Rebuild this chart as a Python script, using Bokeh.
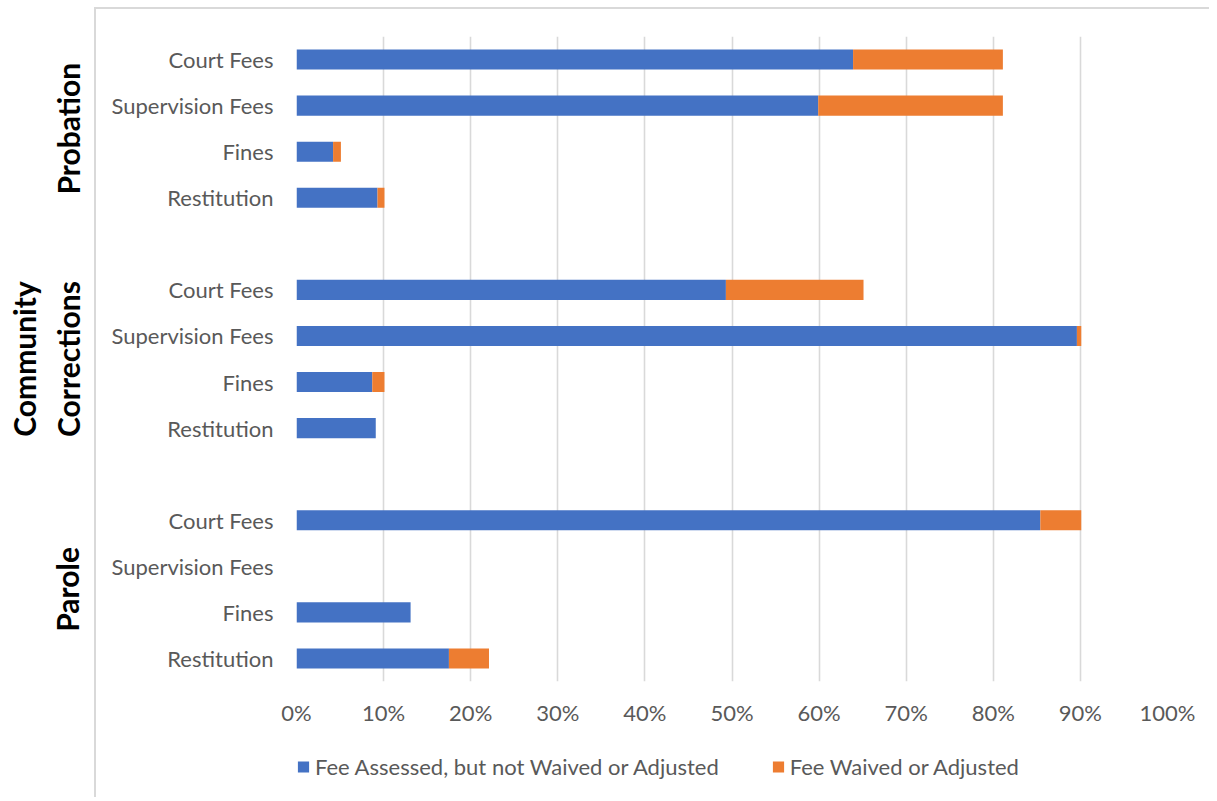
from bokeh.plotting import figure
from bokeh.layouts import column
from bokeh.models import (ColumnDataSource, FactorRange, Legend, LegendItem,
                          FixedTicker, PrintfTickFormatter, Div)
from bokeh.embed import file_html
from bokeh.resources import INLINE

# ---- data (top to bottom as in the chart) ----
groups = ["Probation", "Community\nCorrections", "Parole"]
categories = ["Court Fees", "Supervision Fees", "Fines", "Restitution"]
assessed = [63.9, 59.9, 4.2, 9.3,
            49.3, 89.6, 8.7, 9.1,
            85.4, 0.0, 13.1, 17.5]
waived = [17.2, 21.2, 0.9, 0.8,
          15.8, 0.5, 1.4, 0.0,
          4.7, 0.0, 0.0, 4.6]
series_names = ["Fee Assessed, but not Waived or Adjusted", "Fee Waived or Adjusted"]
series_colors = ["#4472C4", "#ED7D31"]
x_ticks = [0, 10, 20, 30, 40, 50, 60, 70, 80, 90, 100]

factors = [(g, c) for g in groups for c in categories]
source = ColumnDataSource(dict(y=factors, assessed=assessed, waived=waived))

FONT = "Lato"
GRAY = "#595959"

# ---------------- main chart ----------------
p = figure(frame_width=871, frame_height=645, output_backend="svg", toolbar_location=None,
           y_range=FactorRange(*reversed(factors), group_padding=1.0, range_padding=0),
           x_range=(0, 100))
p.min_border_left = 296
p.min_border_right = 42
p.min_border_top = 36
p.min_border_bottom = 60
p.outline_line_color = None

renderers = p.hbar_stack(["assessed", "waived"], y="y", height=0.435,
                         color=series_colors, line_color=None, source=source)

p.xaxis.ticker = FixedTicker(ticks=x_ticks)
p.xaxis.formatter = PrintfTickFormatter(format="%d%%")
p.xaxis.axis_line_color = None
p.xaxis.major_tick_line_color = None
p.xaxis.minor_tick_line_color = None
p.xaxis.major_tick_out = 0
p.xaxis.major_tick_in = 0
p.xaxis.major_label_standoff = 17
p.xaxis.major_label_text_font = FONT
p.xaxis.major_label_text_font_size = "22px"
p.xaxis.major_label_text_color = GRAY

yax = p.yaxis[0]
yax.axis_line_color = None
yax.major_tick_line_color = None
yax.minor_tick_line_color = None
yax.major_tick_out = 0
yax.major_tick_in = 0
yax.major_label_standoff = 23
yax.major_label_text_font = FONT
yax.major_label_text_font_size = "22px"
yax.major_label_text_color = GRAY
yax.group_text_font = FONT
yax.group_text_font_size = "30px"
yax.group_text_font_style = "bold"
yax.group_text_color = "black"
yax.separator_line_color = None

p.xgrid.grid_line_color = "#D9D9D9"
p.xgrid.grid_line_width = 1.6
p.ygrid.grid_line_color = None

# ---------------- legend strip ----------------
p2 = figure(frame_width=871, frame_height=50, output_backend="svg", toolbar_location=None,
            x_axis_location=None, y_axis_location=None, x_range=(0, 1), y_range=(0, 1))
p2.min_border_left = 296
p2.min_border_right = 42
p2.min_border_top = 0
p2.min_border_bottom = 0
p2.outline_line_color = None
p2.grid.grid_line_color = None

# zero-size proxy bars, used only for the legend swatches
legend_items = []
for name, col in zip(series_names, series_colors):
    r = p2.hbar(y=[0], left=[0], right=[0], height=0, fill_color=col, line_color=None)
    legend_items.append(LegendItem(label=name, renderers=[r]))

legend = Legend(items=legend_items, orientation="horizontal", location="left",
                margin=0, padding=0, spacing=52, label_standoff=5,
                glyph_width=14, glyph_height=14,
                border_line_color=None, background_fill_alpha=0,
                label_text_font=FONT, label_text_font_size="22px",
                label_text_color=GRAY)
p2.add_layout(legend, "center")

layout = column(p, p2, spacing=0)

# light frame edge (left and top) of the original chart area
edge = Div(text="", margin=0,
           styles={"position": "absolute", "left": "94px", "top": "7px",
                   "width": "1115px", "height": "790px",
                   "border-left": "2px solid #D9D9D9",
                   "border-top": "2px solid #D9D9D9",
                   "pointer-events": "none"})

open("out.html", "w").write(file_html([layout, edge], INLINE))
